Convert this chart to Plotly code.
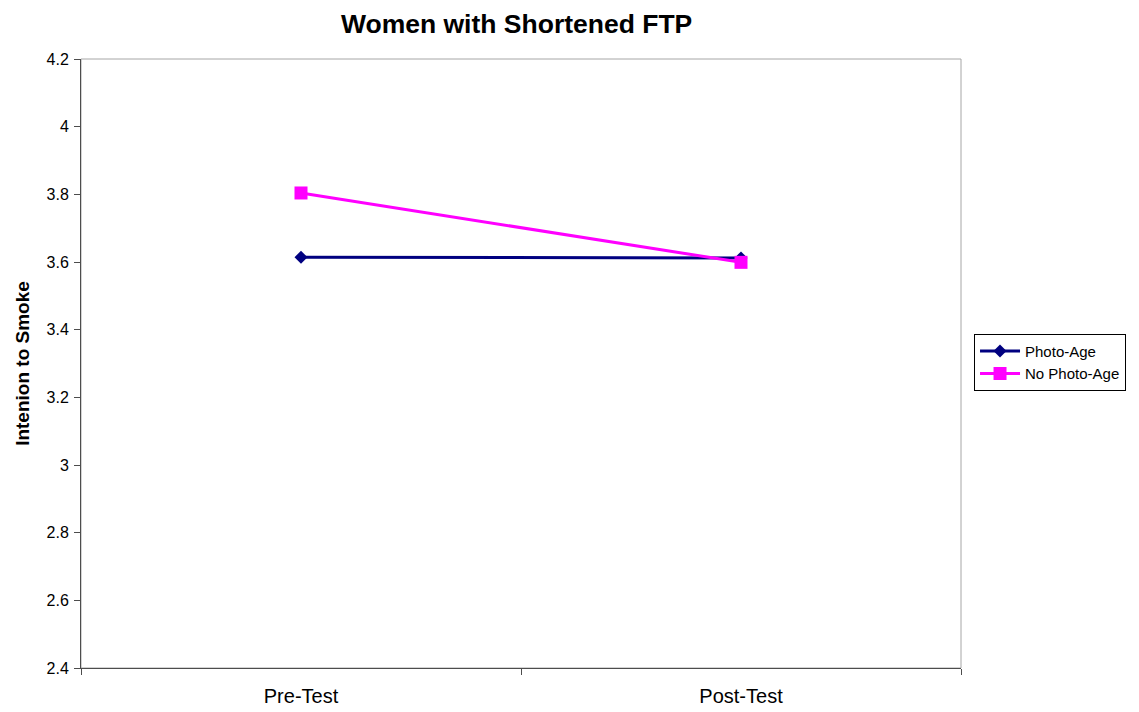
import plotly.graph_objects as go

# Survey phases and mean intention-to-smoke scores
phases = ["Pre-Test", "Post-Test"]
photo_age = [3.614, 3.612]
no_photo_age = [3.804, 3.599]

y_ticks = [2.4, 2.6, 2.8, 3.0, 3.2, 3.4, 3.6, 3.8, 4.0, 4.2]
y_tick_text = ["2.4", "2.6", "2.8", "3", "3.2", "3.4", "3.6", "3.8", "4", "4.2"]

# Each phase sits in the middle of its own unit-wide slot
x_pos = [i + 0.5 for i in range(len(phases))]
x_edges = list(range(len(phases) + 1))

font_family = "Liberation Sans, Arial, sans-serif"

fig = go.Figure()
fig.add_trace(go.Scatter(
    x=x_pos, y=photo_age, name="Photo-Age", mode="lines+markers",
    line=dict(color="#000080", width=3),
    marker=dict(symbol="diamond", size=10, color="#000080"),
))
fig.add_trace(go.Scatter(
    x=x_pos, y=no_photo_age, name="No Photo-Age", mode="lines+markers",
    line=dict(color="#FF00FF", width=3),
    marker=dict(symbol="square", size=13, color="#FF00FF"),
))

# Light frame around the plot area
fig.add_shape(type="rect", xref="paper", yref="paper", x0=0, y0=0, x1=1, y1=1,
              line=dict(color="#a6a6a6", width=1), layer="below")

fig.update_layout(
    width=1139, height=712,
    margin=dict(l=81, r=178, t=59, b=44),
    paper_bgcolor="white", plot_bgcolor="white",
    font=dict(family=font_family, color="black"),
    title=dict(text="<b>Women with Shortened FTP</b>", font=dict(size=26.5),
               x=0.495, xref="paper", xanchor="center", y=1 - 24 / 712,
               yref="container", yanchor="middle"),
    showlegend=True,
    legend=dict(x=1.0148, xanchor="left", y=0.502, yanchor="middle",
                bordercolor="black", borderwidth=1, bgcolor="white",
                font=dict(size=15), itemwidth=40, tracegroupgap=0),
)

fig.update_xaxes(
    range=[x_edges[0], x_edges[-1]], tickvals=x_pos, ticktext=phases,
    ticks="", tickfont=dict(size=20), ticklabelstandoff=10, automargin=False,
    showline=True, linecolor="#4d4d4d", linewidth=1,
    showgrid=False, zeroline=False, fixedrange=True,
    minor=dict(tickvals=x_edges, ticks="outside", ticklen=6,
               tickcolor="#4d4d4d", showgrid=False),
)
fig.update_yaxes(
    range=[2.4, 4.2], tickvals=y_ticks, ticktext=y_tick_text,
    ticks="outside", ticklen=6, tickcolor="#4d4d4d",
    tickfont=dict(size=16), ticklabelstandoff=2, automargin=False,
    showline=True, linecolor="#4d4d4d", linewidth=1,
    showgrid=False, zeroline=False,
    title=dict(text="<b>Intenion to Smoke</b>", font=dict(size=19), standoff=11),
)

fig.write_html("out.html")
